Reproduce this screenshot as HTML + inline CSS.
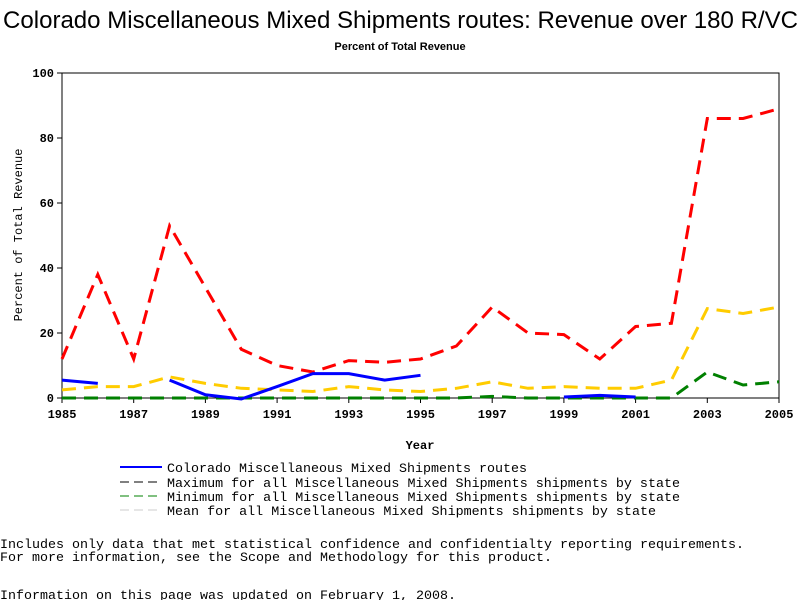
<!DOCTYPE html>
<html><head><meta charset="utf-8"><style>
body{margin:0;background:#fff;width:800px;height:600px;overflow:hidden}
svg text{font-family:"Liberation Mono",monospace;}
</style></head><body>
<svg width="800" height="600">
<text x="3" y="28" font-size="24" textLength="795" lengthAdjust="spacingAndGlyphs" style="font-family:'Liberation Sans',sans-serif">Colorado Miscellaneous Mixed Shipments routes: Revenue over 180 R/VC</text>
<text x="400" y="50" text-anchor="middle" font-size="11" font-weight="bold" style="font-family:'Liberation Sans',sans-serif">Percent of Total Revenue</text>
<g id="axes"></g>
<g id="series"></g>
<text x="420" y="449" text-anchor="middle" font-size="12" font-weight="bold">Year</text>
<text transform="translate(22,235) rotate(-90)" text-anchor="middle" font-size="12">Percent of Total Revenue</text>
<g font-size="13">
<g><line x1="120" y1="467" x2="162" y2="467" stroke="#0000ff" stroke-width="2"/><text x="167" y="472" textLength="360" lengthAdjust="spacingAndGlyphs">Colorado Miscellaneous Mixed Shipments routes</text></g>
<g><line x1="120" y1="482" x2="162" y2="482" stroke="#000" stroke-dasharray="9,5"/><text x="167" y="487" textLength="513" lengthAdjust="spacingAndGlyphs">Maximum for all Miscellaneous Mixed Shipments shipments by state</text></g>
<g><line x1="120" y1="496" x2="162" y2="496" stroke="#008000" stroke-dasharray="9,5"/><text x="167" y="501" textLength="513" lengthAdjust="spacingAndGlyphs">Minimum for all Miscellaneous Mixed Shipments shipments by state</text></g>
<g><line x1="120" y1="510" x2="162" y2="510" stroke="#ccc" stroke-dasharray="9,5"/><text x="167" y="515" textLength="489" lengthAdjust="spacingAndGlyphs">Mean for all Miscellaneous Mixed Shipments shipments by state</text></g>
</g>
<g font-size="13">
<text x="0" y="548" textLength="744" lengthAdjust="spacingAndGlyphs">Includes only data that met statistical confidence and confidentialty reporting requirements.</text>
<text x="0" y="561" textLength="552" lengthAdjust="spacingAndGlyphs">For more information, see the Scope and Methodology for this product.</text>
<text x="0" y="599" textLength="456" lengthAdjust="spacingAndGlyphs">Information on this page was updated on February 1, 2008.</text>
</g>
</svg>
<script>
const years=[1985,1986,1987,1988,1989,1990,1991,1992,1993,1994,1995,1996,1997,1998,1999,2000,2001,2002,2003,2004,2005];
const maxVals=[12,38,12,53,34,15,10,8,11.5,11,12,16,28,20,19.5,12,22,23,86,86,89];
const meanVals=[2.5,3.5,3.5,6.5,4.5,3,2.5,2,3.5,2.5,2,3,5,3,3.5,3,3,5.5,27.5,26,28];
const minVals=[0,0,0,0,0,0,0,0,0,0,0,0,0.5,0,0,0,0,0,8,4,5];
const coVals=[5.5,4.5,null,5.5,1,-0.3,3.5,7.5,7.5,5.5,7,null,null,null,0.3,0.8,0.3,null,null,null,null];
const xTicks=[1985,1987,1989,1991,1993,1995,1997,1999,2001,2003,2005];
const yTicks=[0,20,40,60,80,100];
const X0=62,X1=779,Y0=398,Y1=73;
const xs=y=>X0+(y-1985)/20*(X1-X0);
const ys=v=>Y0-v/100*(Y0-Y1);
const NS="http://www.w3.org/2000/svg";
const ax=document.getElementById('axes'),se=document.getElementById('series');
function mk(t,a,p){const e=document.createElementNS(NS,t);for(const k in a)e.setAttribute(k,a[k]);p.appendChild(e);return e;}
const fr=mk('rect',{x:X0,y:Y1,width:X1-X0,height:Y0-Y1,fill:'none',stroke:'#000'},ax);


xTicks.forEach(t=>{mk('line',{x1:xs(t),x2:xs(t),y1:Y0,y2:Y0+5,stroke:'#000'},ax);
const tx=mk('text',{x:xs(t),y:Y0+20,'text-anchor':'middle','font-size':12,'font-weight':'bold'},ax);tx.textContent=t;

});
yTicks.forEach(t=>{mk('line',{x1:X0-5,x2:X0,y1:ys(t),y2:ys(t),stroke:'#000'},ax);
const tx=mk('text',{x:X0-8,y:ys(t)+4,'text-anchor':'end','font-size':12,'font-weight':'bold'},ax);tx.textContent=t;

});
function line(vals,color,dash,name){let d='',pen=false;vals.forEach((v,i)=>{if(v===null){pen=false;return;}d+=(pen?'L':'M')+xs(years[i]).toFixed(1)+' '+ys(v).toFixed(1);pen=true;});
const p=mk('path',{d:d,fill:'none',stroke:color,'stroke-width':3,'stroke-dasharray':dash||'none'},se);

}
line(minVals,'#008000','14,8','min-line');
line(meanVals,'#ffcc00','14,8','mean-line');
line(maxVals,'#ff0000','14,8','max-line');
line(coVals,'#0000ff',null,'colorado-line');
</script>
</body></html>
